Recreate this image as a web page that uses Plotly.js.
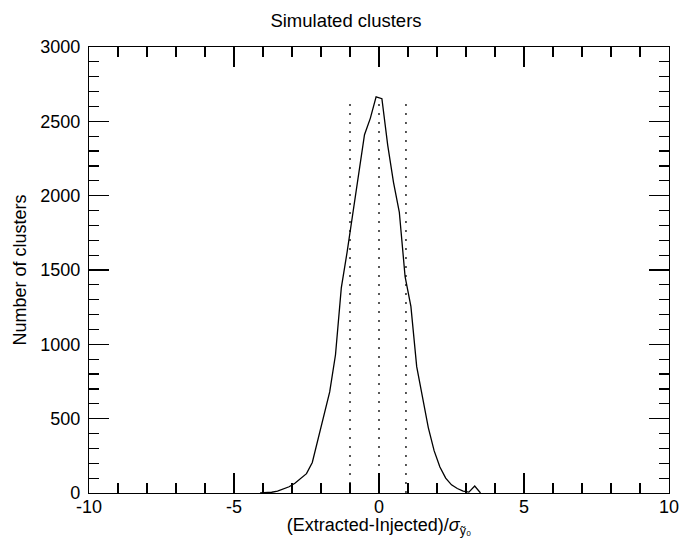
<!DOCTYPE html>
<html>
<head>
<meta charset="utf-8">
<script src="https://cdn.plot.ly/plotly-3.0.1.min.js"></script>
<style>html,body{margin:0;padding:0;background:#fff;}#chart{width:692px;height:538px;}</style>
</head>
<body>
<div id="chart"></div>
<script>
// Histogram bin centres (Extracted-Injected)/sigma
var binCenters = [-4.1, -3.9, -3.7, -3.5, -3.3, -3.1, -2.9, -2.7, -2.5, -2.3, -2.1, -1.9, -1.7, -1.5, -1.3, -1.1, -0.9, -0.7, -0.5, -0.3, -0.1,
                  0.1, 0.3, 0.5, 0.7, 0.9, 1.1, 1.3, 1.5, 1.7, 1.9, 2.1, 2.3, 2.5, 2.7, 2.9, 3.1, 3.3, 3.5];
// Number of clusters per bin
var clusterCounts = [0, 2, 5, 12, 25, 42, 65, 95, 130, 205, 360, 530, 680, 930, 1380, 1620, 1880, 2150, 2410, 2520, 2665,
                     2652, 2340, 2090, 1890, 1455, 1255, 850, 640, 440, 285, 175, 100, 55, 30, 13, 6, 47, 0];
// Vertical dotted markers (mean and +/- 1 sigma)
var markerX = [-1.0, 0.0, 0.93];
var markerTop = 2640;

var xTickVals = [-10, -5, 0, 5, 10];
var yTickVals = [0, 500, 1000, 1500, 2000, 2500, 3000];

var FONT = "Liberation Sans, Arial, Helvetica, sans-serif";

var traces = [{
  type: "scatter", mode: "lines",
  x: binCenters, y: clusterCounts,
  line: {color: "#000", width: 1.3},
  hoverinfo: "skip", showlegend: false
}];
markerX.forEach(function (mx) {
  traces.push({
    type: "scatter", mode: "lines",
    x: [mx, mx], y: [0, markerTop],
    line: {color: "#000", width: 1.3, dash: "2px,7px"},
    hoverinfo: "skip", showlegend: false
  });
});

var axisCommon = {
  showline: true, linecolor: "#000", linewidth: 1.2, mirror: "ticks",
  ticks: "inside", tickcolor: "#000", tickwidth: 1.2, ticklen: 20,
  showgrid: false, zeroline: false,
  tickfont: {family: FONT, size: 18, color: "#000"}
};

var layout = {
  width: 692, height: 538,
  margin: {l: 89.3, r: 22.7, t: 46.5, b: 45},
  paper_bgcolor: "#fff", plot_bgcolor: "#fff",
  font: {family: FONT, size: 18, color: "#000"},
  title: {text: "Simulated clusters", font: {family: FONT, size: 18.5, color: "#000"},
          x: 0.5, xanchor: "center", y: 1 - 21/538, yanchor: "middle"},
  xaxis: Object.assign({}, axisCommon, {
    range: [-10, 10], tickmode: "array", tickvals: xTickVals, ticktext: xTickVals.map(String),
    ticklabelstandoff: -3,
    minor: {dtick: 1, ticks: "inside", ticklen: 10, tickcolor: "#000", tickwidth: 1.2, showgrid: false},
    title: {text: "(Extracted-Injected)/<i>σ</i><sub>ỹ₀</sub>", font: {family: FONT, size: 18, color: "#000"}, standoff: 4}
  }),
  yaxis: Object.assign({}, axisCommon, {
    range: [0, 3000], tickmode: "array", tickvals: yTickVals, ticktext: yTickVals.map(String),
    ticklabelstandoff: 4,
    minor: {dtick: 100, ticks: "inside", ticklen: 10, tickcolor: "#000", tickwidth: 1.2, showgrid: false},
    title: {text: "Number of clusters", font: {family: FONT, size: 18, color: "#000"}, standoff: 8}
  })
};

Plotly.newPlot("chart", traces, layout, {staticPlot: true, displayModeBar: false});
</script>
</body>
</html>
